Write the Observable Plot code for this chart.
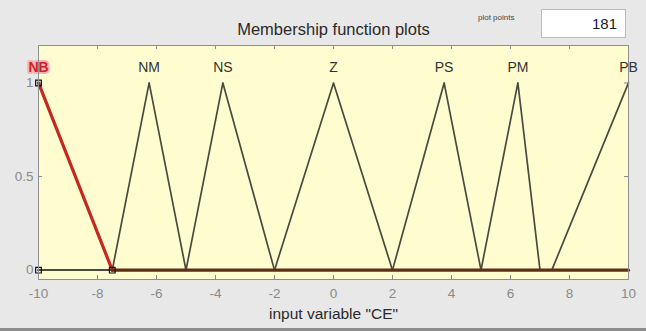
<!DOCTYPE html>
<html>
<head>
<meta charset="utf-8">
<script src="https://cdn.jsdelivr.net/npm/d3@7"></script>
<script src="https://cdn.jsdelivr.net/npm/@observablehq/plot@0.6"></script>
<style>
  html, body { margin: 0; padding: 0; background: #e8e8e8; }
  #wrap { position: relative; width: 646px; height: 331px; overflow: hidden; font-family: "Liberation Sans", Arial, sans-serif; }
  #pp { position: absolute; left: 478px; top: 13px; font-size: 8px; color: #444; }
  #box { position: absolute; left: 541px; top: 9px; width: 85px; height: 29px; background: #fff; border: 1px solid #bbb; box-sizing: border-box; text-align: right; font-size: 15px; line-height: 27px; padding-right: 8px; color: #222; }
  #bottomline { position: absolute; left: 0; top: 328px; width: 646px; height: 3px; background: #8d8d8d; }
</style>
</head>
<body>
<div id="wrap">
  <div id="chart"></div>
  <div id="pp">plot points</div>
  <div id="box">181</div>
  <div id="bottomline"></div>
</div>
<script>
// Membership functions (triangular: a, b, c)
const mfNames = ["NB", "NM", "NS", "Z", "PS", "PM", "PB"];
const mfA = [-10, -7.5, -5, -2, 2, 5, 7.4];
const mfB = [-10, -6.25, -3.75, 0, 3.75, 6.25, 10];
const mfC = [-7.5, -5, -2, 2, 5, 7, 10];
const xTicks = [-10, -8, -6, -4, -2, 0, 2, 4, 6, 8, 10];
const yTicks = [0, 0.5, 1];
const xRange = [-10, 10];
const titleText = "Membership function plots";
const xLabel = "input variable \"CE\"";
const selected = 0;

function trimf(x, a, b, c) {
  if (x === b) return 1;
  if (x <= a || x >= c) return 0;
  return x < b ? (x - a) / (b - a) : (c - x) / (c - b);
}

// Build polyline points for each MF over the input range
const curves = [];
mfNames.forEach((name, i) => {
  const xs = Array.from(new Set([xRange[0], mfA[i], mfB[i], mfC[i], xRange[1]])).sort((p, q) => p - q);
  xs.forEach(x => curves.push({ name, idx: i, x, y: trimf(x, mfA[i], mfB[i], mfC[i]) }));
});
const others = curves.filter(d => d.idx !== selected);
const sel = curves.filter(d => d.idx === selected);
const selSlope = sel.filter(d => d.x <= mfC[selected]);
const selBase = sel.filter(d => d.x >= mfC[selected]);
const handles = [
  { x: mfA[selected], y: 0 },
  { x: mfB[selected], y: 1 },
  { x: mfC[selected], y: 0 }
];
const labels = mfNames.map((name, i) => ({ name, peak: mfB[i], idx: i }));

const chart = Plot.plot({
  width: 646,
  height: 331,
  marginTop: 45,
  marginBottom: 52,
  marginLeft: 38,
  marginRight: 18,
  x: { domain: xRange },
  y: { domain: [-0.05, 1.2] },
  style: { background: "#e8e8e8", fontFamily: "'Liberation Sans', Arial, sans-serif" },
  marks: [
    Plot.frame({ fill: "#fffdcf" }),
    Plot.axisX(xTicks, { tickSize: 0, tickPadding: 9, fontSize: 13.5, color: "#8a8a8a", tickFormat: d => String(d), label: null }),
    Plot.axisY(yTicks, { tickSize: 0, tickPadding: 5, fontSize: 13.5, color: "#8a8a8a", tickFormat: d => String(d), label: null }),
    Plot.tickX(xTicks, { x: d => d, insetTop: 230, stroke: "#888" }),
    Plot.tickX(xTicks, { x: d => d, insetBottom: 230, stroke: "#888" }),
    Plot.tickY(yTicks, { y: d => d, insetRight: 586, stroke: "#888" }),
    Plot.tickY(yTicks, { y: d => d, insetLeft: 586, stroke: "#888" }),
    Plot.line(others, { x: "x", y: "y", z: "name", stroke: "#4a4a40", strokeWidth: 1.7 }),
    Plot.line(selSlope, { x: "x", y: "y", stroke: "#c4281f", strokeWidth: 3.2 }),
    Plot.line(selBase, { x: "x", y: "y", stroke: "#5e2e17", strokeWidth: 3.2 }),
    Plot.dot(handles, { x: "x", y: "y", symbol: "square", r: 3.2, stroke: "#111", fill: "none", strokeWidth: 1.2 }),
    Plot.text(labels.filter(d => d.idx !== selected), { x: "peak", text: "name", frameAnchor: "top", dy: 17, fontSize: 14, fill: "#333" }),
    Plot.text(labels.filter(d => d.idx === selected), { x: "peak", text: "name", frameAnchor: "top", dy: 17, fontSize: 14, fontWeight: "bold", fill: "#d0202a", stroke: "#f7b3b3", strokeWidth: 4 }),
    Plot.text([titleText], { frameAnchor: "top", dy: -22, fontSize: 16.5, fill: "#2a2a2a" }),
    Plot.text([xLabel], { frameAnchor: "bottom", dy: 39, fontSize: 15.5, fill: "#2a2a2a" }),
    Plot.frame({ stroke: "#8f8f8f" })
  ]
});
document.getElementById("chart").appendChild(chart);
</script>
</body>
</html>
